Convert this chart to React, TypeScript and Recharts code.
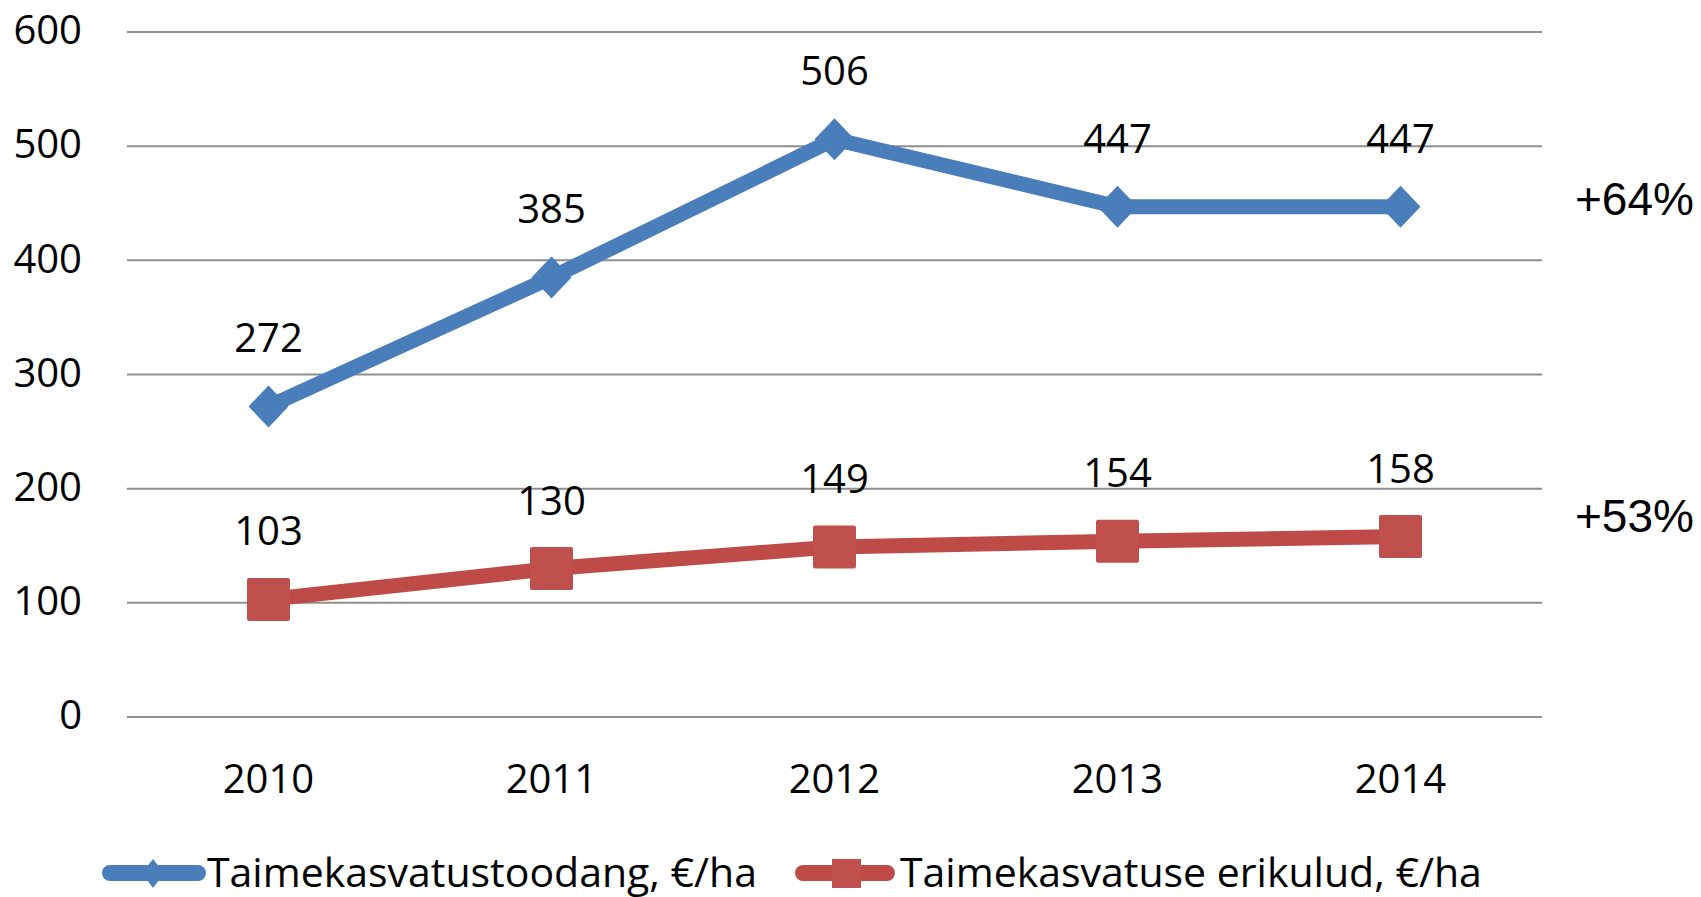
import { LineChart, Line, XAxis, YAxis, CartesianGrid, LabelList } from "recharts";

const years = ["2010", "2011", "2012", "2013", "2014"];
const toodang = [272, 385, 506, 447, 447];
const erikulud = [103, 130, 149, 154, 158];
const yTicks = [0, 100, 200, 300, 400, 500, 600];

const BLUE = "#4a7ebb";
const RED = "#be4b48";
const FONT = "'Open Sans', sans-serif";

const data = years.map((year, i) => ({
  year,
  toodang: toodang[i],
  erikulud: erikulud[i],
}));

const Diamond = (props: any) => {
  const { cx, cy } = props;
  if (cx == null || cy == null) return null;
  return (
    <polygon
      key={`d-${props.index}`}
      points={`${cx},${cy - 21} ${cx + 20},${cy} ${cx},${cy + 21} ${cx - 20},${cy}`}
      fill={BLUE}
    />
  );
};

const Square = (props: any) => {
  const { cx, cy } = props;
  if (cx == null || cy == null) return null;
  return (
    <rect key={`s-${props.index}`} x={cx - 21.5} y={cy - 21.5} width={43} height={43} rx={2} fill="#c0504d" />
  );
};

const renderLabel = (props: any) => {
  const { x, y, value } = props;
  return (
    <text x={x} y={y - 54} textAnchor="middle" fontSize={40} fontFamily={FONT} fill="#000">
      {value}
    </text>
  );
};

export default function App() {
  return (
    <div style={{ position: "absolute", left: 0, top: 0, width: 1701, height: 897, background: "#fff" }}>
      <LineChart width={1701} height={897} data={data} margin={{ top: 32, right: 159, left: 0, bottom: 80 }}>
        <CartesianGrid vertical={false} stroke="#8e8e8e" strokeWidth={2} />
        <XAxis
          dataKey="year"
          scale="band"
          axisLine={false}
          tickLine={false}
          tickSize={0}
          tickMargin={48}
          height={100}
          tick={{ fill: "#000", fontSize: 40, fontFamily: FONT }}
        />
        <YAxis
          domain={[0, 600]}
          ticks={yTicks}
          axisLine={false}
          tickLine={false}
          tickSize={0}
          tickMargin={45}
          width={127}
          tick={{ fill: "#000", fontSize: 40, fontFamily: FONT, dy: -2 }}
        />
        <Line
          dataKey="toodang"
          stroke={BLUE}
          strokeWidth={15}
          strokeLinejoin="round"
          dot={Diamond}
          activeDot={false}
          isAnimationActive={false}
        >
          <LabelList dataKey="toodang" content={renderLabel} />
        </Line>
        <Line
          dataKey="erikulud"
          stroke={RED}
          strokeWidth={15}
          strokeLinejoin="round"
          dot={Square}
          activeDot={false}
          isAnimationActive={false}
        >
          <LabelList dataKey="erikulud" content={renderLabel} />
        </Line>
      </LineChart>
      <svg
        width={1701}
        height={897}
        style={{ position: "absolute", left: 0, top: 0, pointerEvents: "none" }}
      >
        <text x={1575} y={215} fontSize={46} fontFamily="'Liberation Sans', Arial, sans-serif" fill="#000">
          +64%
        </text>
        <text x={1575} y={532} fontSize={46} fontFamily="'Liberation Sans', Arial, sans-serif" fill="#000">
          +53%
        </text>
        {/* legend */}
        <line x1={110} y1={873} x2={198} y2={873} stroke={BLUE} strokeWidth={16} strokeLinecap="round" />
        <polygon points="153,859 164,873 153,888 142,873" fill={BLUE} />
        <text x={207} y={887} fontSize={41} fontFamily={FONT} fill="#000">
          Taimekasvatustoodang, €/ha
        </text>
        <line x1={803} y1={873} x2={887} y2={873} stroke={RED} strokeWidth={16} strokeLinecap="round" />
        <rect x={832} y={859} width={29} height={29} fill="#c0504d" />
        <text x={900} y={887} fontSize={41} fontFamily={FONT} fill="#000">
          Taimekasvatuse erikulud, €/ha
        </text>
      </svg>
    </div>
  );
}
